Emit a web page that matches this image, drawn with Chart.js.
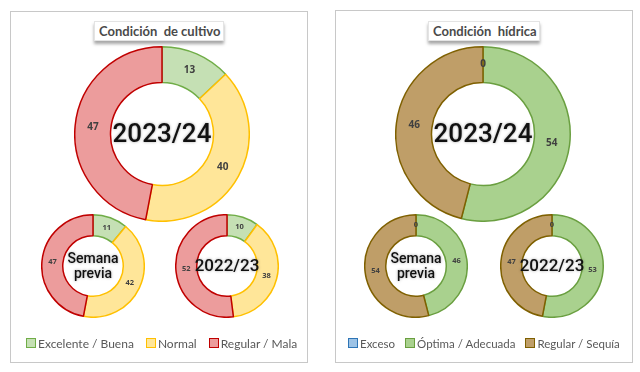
<!DOCTYPE html>
<html>
<head>
<meta charset="utf-8">
<script src="https://cdn.jsdelivr.net/npm/chart.js@4/dist/chart.umd.min.js"></script>
<style>
  body { margin: 0; width: 640px; height: 372px; background: #fff; position: relative; overflow: hidden; font-family: Lato, "Open Sans", sans-serif; }
  .panel { position: absolute; border: 1px solid #c8c8c8; box-sizing: border-box; }
  .title { position: absolute; height: 18px; line-height: 18px; padding: 0 4px; background: #fff; border: 1px solid #e4e4e4;
           box-shadow: 0 3px 3px rgba(0,0,0,0.35); font-size: 13px; font-weight: bold; color: #4a4a4a; text-align: center; white-space: nowrap; }
  .box { position: absolute; }
  .legend { position: absolute; top: 335px; height: 16px; font-size: 12px; color: #595959; white-space: nowrap; display: flex; align-items: center; }
  .legend span.sw { display: inline-block; width: 8px; height: 8px; border: 1.5px solid; margin-right: 2px; }
  .legend span.it { margin-right: 12px; display: inline-flex; align-items: center; }
  #legH { font-size: 11.5px; }
  #legH span.it { margin-right: 10px; }
</style>
</head>
<body>
<div class="panel" style="left:10px;top:11px;width:298px;height:352px"></div>
<div class="panel" style="left:335px;top:10px;width:298px;height:353px"></div>
<div class="title" style="left:94px;top:21px;width:120px">Condición&nbsp; de cultivo</div>
<div class="title" style="left:428px;top:21px;width:102px">Condición&nbsp; hídrica</div>

<div class="box" style="left:74px;top:46px"><canvas id="c1" width="176" height="176"></canvas></div>
<div class="box" style="left:41px;top:214px"><canvas id="c2" width="104" height="104"></canvas></div>
<div class="box" style="left:175px;top:214px"><canvas id="c3" width="104" height="104"></canvas></div>
<div class="box" style="left:395px;top:46px"><canvas id="h1" width="176" height="176"></canvas></div>
<div class="box" style="left:364px;top:214px"><canvas id="h2" width="104" height="104"></canvas></div>
<div class="box" style="left:500px;top:214px"><canvas id="h3" width="104" height="104"></canvas></div>

<div class="legend" id="legC" style="left:26px"></div>
<div class="legend" id="legH" style="left:348px"></div>

<script>
var cultivoLabels = ['Excelente / Buena', 'Normal', 'Regular / Mala'];
var cultivoActual = [13, 40, 47];
var cultivoPrevia = [11, 42, 47];
var cultivoAnterior = [10, 38, 52];

var hidricaLabels = ['Exceso', 'Óptima / Adecuada', 'Regular / Sequía'];
var hidricaActual = [0, 54, 46];
var hidricaPrevia = [0, 46, 54];
var hidricaAnterior = [0, 53, 47];

var CULT_FILL = ['#c5e0b4', '#ffe699', '#ec9c9c'];
var CULT_LINE = ['#70ad47', '#ffc000', '#c00000'];
var HID_FILL = ['#9dc3e6', '#a9d18e', '#bf9e68'];
var HID_LINE = ['#2e75b6', '#6a9f40', '#7f6000'];

// value labels at the middle of each arc + text in the hole
var donutText = {
  id: 'donutText',
  afterDatasetsDraw: function (chart, args, opts) {
    var ctx = chart.ctx;
    var meta = chart.getDatasetMeta(0);
    var data = chart.data.datasets[0].data;
    ctx.save();
    ctx.textAlign = 'center';
    ctx.textBaseline = 'middle';
    ctx.fillStyle = '#404040';
    ctx.font = 'bold ' + opts.valueSize + 'px "Open Sans", sans-serif';
    meta.data.forEach(function (arc, i) {
      var p = arc.tooltipPosition();
      ctx.fillText(String(data[i]), p.x, p.y);
    });
    var c = meta.data[0];
    ctx.fillStyle = '#111';
    ctx.shadowColor = 'rgba(0,0,0,0.35)';
    ctx.shadowBlur = 3;
    ctx.font = '500 ' + opts.centerSize + 'px Roboto, sans-serif';
    var lines = opts.center;
    var lh = opts.centerSize * 1.05;
    lines.forEach(function (t, k) {
      ctx.fillText(t, c.x, c.y + (k - (lines.length - 1) / 2) * lh + 1);
    });
    ctx.restore();
  }
};

function donut(id, labels, values, fill, line, center, centerSize, valueSize) {
  new Chart(document.getElementById(id).getContext('2d'), {
    type: 'doughnut',
    data: { labels: labels,
      datasets: [{ data: values, backgroundColor: fill, borderColor: line, borderWidth: 1.5, hoverOffset: 0 }] },
    options: { responsive: false, animation: false, events: [], cutout: '59%',
      layout: { padding: 0 },
      plugins: { legend: { display: false }, tooltip: { enabled: false },
        donutText: { center: center, centerSize: centerSize, valueSize: valueSize } } },
    plugins: [donutText]
  });
}

donut('c1', cultivoLabels, cultivoActual, CULT_FILL, CULT_LINE, ['2023/24'], 26, 10);
donut('c2', cultivoLabels, cultivoPrevia, CULT_FILL, CULT_LINE, ['Semana', 'previa'], 14, 7.5);
donut('c3', cultivoLabels, cultivoAnterior, CULT_FILL, CULT_LINE, ['2022/23'], 17, 7.5);
donut('h1', hidricaLabels, hidricaActual, HID_FILL, HID_LINE, ['2023/24'], 26, 10);
donut('h2', hidricaLabels, hidricaPrevia, HID_FILL, HID_LINE, ['Semana', 'previa'], 14, 7.5);
donut('h3', hidricaLabels, hidricaAnterior, HID_FILL, HID_LINE, ['2022/23'], 17, 7.5);

function legend(elId, labels, fill, line) {
  var el = document.getElementById(elId);
  labels.forEach(function (l, i) {
    var it = document.createElement('span');
    it.className = 'it';
    it.innerHTML = '<span class="sw" style="background:' + fill[i] + ';border-color:' + line[i] + '"></span>' + l;
    el.appendChild(it);
  });
}
legend('legC', cultivoLabels, CULT_FILL, CULT_LINE);
legend('legH', hidricaLabels, HID_FILL, HID_LINE);
</script>
</body>
</html>
